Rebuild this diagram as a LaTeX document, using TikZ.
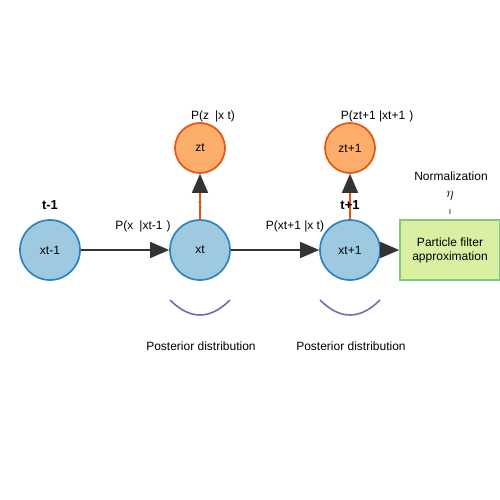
\documentclass[tikz,border=0pt]{standalone}
\usepackage{fontspec}
\setmainfont{Liberation Sans}
\usetikzlibrary{arrows.meta}
\definecolor{stateblue}{HTML}{9ECAE1}
\definecolor{stateline}{HTML}{3182BD}
\definecolor{obsfill}{HTML}{FDAE6B}
\definecolor{obsline}{HTML}{E6550D}
\definecolor{pffill}{HTML}{D9F0A3}
\definecolor{pfline}{HTML}{7FC97F}
\definecolor{postline}{HTML}{756BB1}
\definecolor{tipgray}{HTML}{333333}
\tikzset{x=1pt, y=-1pt}
\tikzset{
  lbl/.style={font=\fontsize{12}{14}\selectfont, inner sep=0pt},
  state/.style={circle, draw=stateline, fill=stateblue, line width=1.7pt, minimum size=60pt, inner sep=0pt, lbl},
  obs/.style={circle, draw=obsline, fill=obsfill, line width=1.7pt, minimum size=50pt, inner sep=0pt, lbl},
  conn/.style={draw=tipgray, line width=1.6pt, -{Triangle[length=19pt,width=16pt]}},
  emit/.style={draw=obsline, line width=1.6pt, -{Triangle[length=19pt,width=16pt,color=tipgray]}},
  post/.style={draw=postline, line width=1.6pt},
}

\begin{document}
\begin{tikzpicture}
\useasboundingbox (0,0) rectangle (500,500);
% hidden states
\node[state] (xprev) at (50,250) {xt-1};
\node[state] (xcur) at (200,250) {xt};
\node[state] (xnext) at (350,250) {xt+1};
% observations
\node[obs] (zcur) at (200,148) {zt};
\node[obs] (znext) at (350,148) {zt+1};
% particle filter box
\node[draw=pfline, fill=pffill, line width=1.7pt, minimum width=100pt, minimum height=60pt, lbl, align=center] (pf) at (450,250) {Particle filter\\approximation};
% connectors
\draw[conn] (xprev) -- (xcur);
\draw[conn] (xcur) -- (xnext);
\draw[conn] (xnext) -- (pf);
\node[lbl, text=tipgray] (tsub) at (200,205) {t};
\draw[emit] (xcur) -- (zcur);
\draw[emit] (xnext) -- (znext);
% time labels
\node[lbl, font=\fontsize{13}{15}\selectfont\bfseries] (tprev) at (50,205) {t-1};
\node[lbl, font=\fontsize{13}{15}\selectfont\bfseries] (tnext) at (350,205) {t+1};
% probabilities
\node[lbl] (ptrans) at (143,226) {P(x\hspace{6pt}|xt-1\hspace{4pt})};
\node[lbl] (pobs) at (213,116) {P(z\hspace{6pt}|x t)};
\node[lbl] (ptransn) at (295,226) {P(xt+1 |x t)};
\node[lbl] (pobsn) at (377,116) {P(zt+1 |xt+1\hspace{4pt})};
% normalization
\node[lbl] (norm) at (451,176) {Normalization};
\node[lbl, font=\fontsize{14}{16}\selectfont] (eta) at (450,196) {$\eta$};
\draw[gray!70, line width=1.5pt] (450,209) -- (450,214);
% posterior arcs
\foreach \x in {200,350}
  \draw[post] (\x-30,300) .. controls (\x-10,320) and (\x+10,320) .. (\x+30,300);
\node[lbl] (postcur) at (201,346) {Posterior distribution};
\node[lbl] (postnext) at (351,346) {Posterior distribution};
\end{tikzpicture}
\end{document}
